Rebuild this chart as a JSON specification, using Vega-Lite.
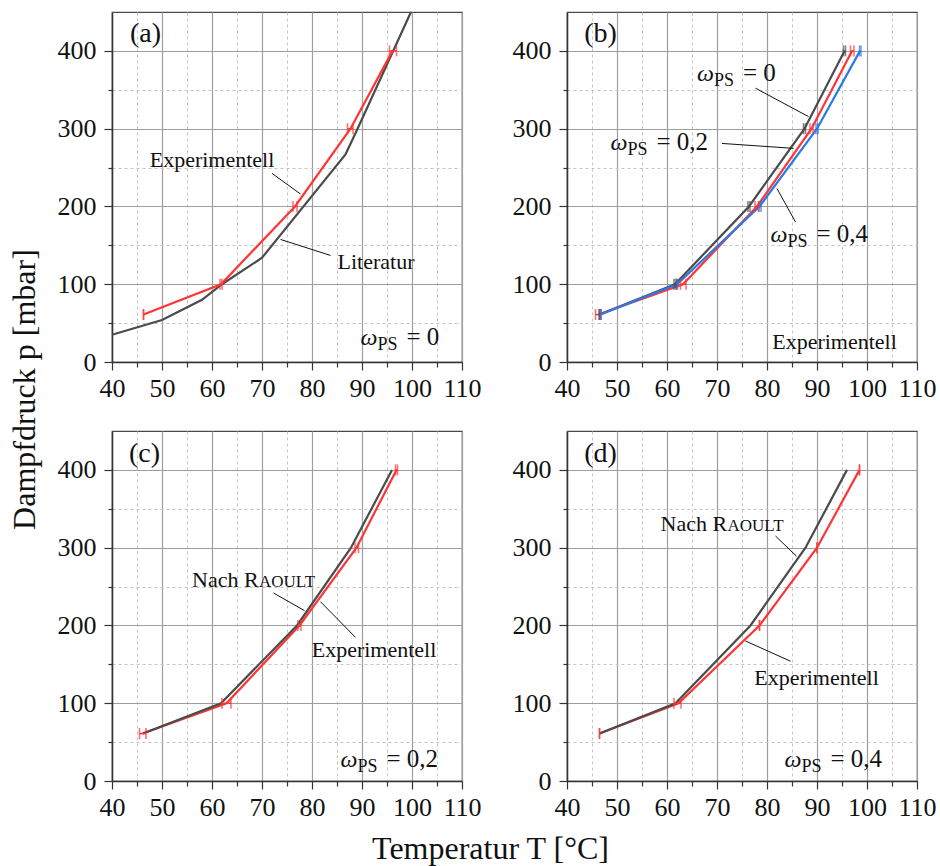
{
  "$schema": "https://vega.github.io/schema/vega-lite/v6.json",
  "padding": {"left": 7, "top": 7, "right": 5, "bottom": 5},
  "background": "white",
  "config": {
    "font": "Liberation Serif",
    "view": {"stroke": "#4a4a4a", "strokeWidth": 1.2},
    "axis": {
      "labelFont": "Liberation Serif", "labelFontSize": 26, "labelColor": "#111",
      "labelFlush": false, "labelOverlap": false,
      "tickColor": "#333", "tickWidth": 1.2,
      "domainColor": "#333", "domainWidth": 1.5,
      "titleFont": "Liberation Serif", "titleFontSize": 32, "titleFontWeight": "normal", "titleColor": "#111"
    },
    "text": {"font": "Liberation Serif", "color": "#111"}
  },
  "datasets": {
    "curves": [
      {"panel": "a", "s": "Literatur", "T": 40, "p": 35},
      {"panel": "a", "s": "Literatur", "T": 50, "p": 54},
      {"panel": "a", "s": "Literatur", "T": 58, "p": 80},
      {"panel": "a", "s": "Literatur", "T": 62, "p": 100},
      {"panel": "a", "s": "Literatur", "T": 70, "p": 134},
      {"panel": "a", "s": "Literatur", "T": 86.7, "p": 267},
      {"panel": "a", "s": "Literatur", "T": 88.7, "p": 294},
      {"panel": "a", "s": "Literatur", "T": 99.8, "p": 450},
      {"panel": "a", "s": "Experimentell", "T": 46.3, "p": 61, "lo": 46.3, "hi": 46.3},
      {"panel": "a", "s": "Experimentell", "T": 61.8, "p": 100, "lo": 61.6, "hi": 62.0},
      {"panel": "a", "s": "Experimentell", "T": 76.6, "p": 200, "lo": 76.2, "hi": 77.0},
      {"panel": "a", "s": "Experimentell", "T": 87.7, "p": 300, "lo": 87.1, "hi": 88.2},
      {"panel": "a", "s": "Experimentell", "T": 96.1, "p": 400, "lo": 95.5, "hi": 96.9},
      {"panel": "b", "s": "ωPS = 0", "T": 46.5, "p": 61, "lo": 46.4, "hi": 46.6},
      {"panel": "b", "s": "ωPS = 0", "T": 61.6, "p": 100, "lo": 61.4, "hi": 61.8},
      {"panel": "b", "s": "ωPS = 0", "T": 76.4, "p": 200, "lo": 76.2, "hi": 76.6},
      {"panel": "b", "s": "ωPS = 0", "T": 87.5, "p": 300, "lo": 87.3, "hi": 87.7},
      {"panel": "b", "s": "ωPS = 0", "T": 95.5, "p": 400, "lo": 95.3, "hi": 95.7},
      {"panel": "b", "s": "ωPS = 0,2", "T": 46.3, "p": 61, "lo": 45.7, "hi": 46.8},
      {"panel": "b", "s": "ωPS = 0,2", "T": 63.2, "p": 100, "lo": 62.7, "hi": 63.8},
      {"panel": "b", "s": "ωPS = 0,2", "T": 78.0, "p": 200, "lo": 77.6, "hi": 78.4},
      {"panel": "b", "s": "ωPS = 0,2", "T": 88.9, "p": 300, "lo": 88.6, "hi": 89.2},
      {"panel": "b", "s": "ωPS = 0,2", "T": 97.0, "p": 400, "lo": 96.7, "hi": 97.4},
      {"panel": "b", "s": "ωPS = 0,4", "T": 46.7, "p": 61, "lo": 46.6, "hi": 46.8},
      {"panel": "b", "s": "ωPS = 0,4", "T": 62.0, "p": 100, "lo": 61.9, "hi": 62.1},
      {"panel": "b", "s": "ωPS = 0,4", "T": 78.5, "p": 200, "lo": 78.3, "hi": 78.8},
      {"panel": "b", "s": "ωPS = 0,4", "T": 90.0, "p": 300, "lo": 89.8, "hi": 90.2},
      {"panel": "b", "s": "ωPS = 0,4", "T": 98.6, "p": 400, "lo": 98.5, "hi": 98.8},
      {"panel": "c", "s": "Nach Raoult", "T": 46.2, "p": 61},
      {"panel": "c", "s": "Nach Raoult", "T": 61.8, "p": 100},
      {"panel": "c", "s": "Nach Raoult", "T": 77.0, "p": 200},
      {"panel": "c", "s": "Nach Raoult", "T": 87.8, "p": 300},
      {"panel": "c", "s": "Nach Raoult", "T": 96.0, "p": 400},
      {"panel": "c", "s": "Experimentell", "T": 46.1, "p": 61, "lo": 45.5, "hi": 46.8},
      {"panel": "c", "s": "Experimentell", "T": 62.9, "p": 100, "lo": 62.0, "hi": 63.8},
      {"panel": "c", "s": "Experimentell", "T": 77.5, "p": 200, "lo": 77.2, "hi": 77.8},
      {"panel": "c", "s": "Experimentell", "T": 88.9, "p": 300, "lo": 88.6, "hi": 89.3},
      {"panel": "c", "s": "Experimentell", "T": 96.9, "p": 400, "lo": 96.7, "hi": 97.1},
      {"panel": "d", "s": "Nach Raoult", "T": 46.5, "p": 61},
      {"panel": "d", "s": "Nach Raoult", "T": 61.7, "p": 100},
      {"panel": "d", "s": "Nach Raoult", "T": 76.7, "p": 200},
      {"panel": "d", "s": "Nach Raoult", "T": 87.7, "p": 300},
      {"panel": "d", "s": "Nach Raoult", "T": 96.0, "p": 400},
      {"panel": "d", "s": "Experimentell", "T": 46.5, "p": 61, "lo": 46.5, "hi": 46.5},
      {"panel": "d", "s": "Experimentell", "T": 62.3, "p": 100, "lo": 61.4, "hi": 62.8},
      {"panel": "d", "s": "Experimentell", "T": 78.5, "p": 200, "lo": 78.5, "hi": 78.5},
      {"panel": "d", "s": "Experimentell", "T": 90.0, "p": 300, "lo": 90.0, "hi": 90.0},
      {"panel": "d", "s": "Experimentell", "T": 98.5, "p": 400, "lo": 98.5, "hi": 98.5}
    ],
    "notes": [
      {"panel": "a", "T": 60, "p": 251, "text": "Experimentell"},
      {"panel": "a", "T": 92.8, "p": 120, "text": "Literatur"},
      {"panel": "b", "T": 93.5, "p": 17, "text": "Experimentell"},
      {"panel": "c", "T": 92.4, "p": 159, "text": "Experimentell"},
      {"panel": "d", "T": 89.9, "p": 123, "text": "Experimentell"}
    ],
    "letters": [
      {"panel": "a", "T": 46.7, "p": 412, "text": "(a)"},
      {"panel": "b", "T": 46.7, "p": 412, "text": "(b)"},
      {"panel": "c", "T": 46.5, "p": 410, "text": "(c)"},
      {"panel": "d", "T": 46.7, "p": 410, "text": "(d)"}
    ],
    "raoult": [
      {"panel": "c", "T": 56, "p": 249.4, "head": "Nach R", "tail": "AOULT"},
      {"panel": "d", "T": 58.7, "p": 322, "head": "Nach R", "tail": "AOULT"}
    ],
    "omegas": [
      {"panel": "a", "T": 89.7, "p": 21.5, "sym": "ω", "sub": "PS", "val": "= 0"},
      {"panel": "b", "T": 66, "p": 361, "sym": "ω", "sub": "PS", "val": "= 0"},
      {"panel": "b", "T": 48.7, "p": 272.6, "sym": "ω", "sub": "PS", "val": "= 0,2"},
      {"panel": "b", "T": 80.7, "p": 154.5, "sym": "ω", "sub": "PS", "val": "= 0,4"},
      {"panel": "c", "T": 85.7, "p": 18.4, "sym": "ω", "sub": "PS", "val": "= 0,2"},
      {"panel": "d", "T": 83.5, "p": 18.4, "sym": "ω", "sub": "PS", "val": "= 0,4"}
    ],
    "leaders": [
      {"panel": "a", "T": 72, "p": 242.5, "T2": 77.7, "p2": 216},
      {"panel": "a", "T": 83.7, "p": 137, "T2": 73.7, "p2": 157.6},
      {"panel": "b", "T": 77.7, "p": 352, "T2": 88.3, "p2": 315.5},
      {"panel": "b", "T": 71, "p": 281, "T2": 85.3, "p2": 274.7},
      {"panel": "b", "T": 85.7, "p": 180, "T2": 82, "p2": 223},
      {"panel": "c", "T": 72.3, "p": 241.7, "T2": 78.5, "p2": 219},
      {"panel": "c", "T": 88.7, "p": 184.7, "T2": 81.7, "p2": 230.5},
      {"panel": "d", "T": 81.7, "p": 315, "T2": 85.9, "p2": 289},
      {"panel": "d", "T": 84.7, "p": 154, "T2": 75.7, "p2": 180}
    ]
  },
  "columns": 2,
  "spacing": {"row": 69, "column": 105},
  "bounds": "flush",
  "concat": [
    {
      "width": 350, "height": 350,
      "resolve": {"axis": {"x": "independent", "y": "independent"}},
      "layer": [
        {"data": {"name": "curves"}, "transform": [{"filter": "datum.panel === 'a' && datum.s === 'Literatur'"}],
         "mark": {"type": "line", "strokeWidth": 2.2},
         "encoding": {
           "x": {"field": "T", "type": "quantitative", "scale": {"domain": [40, 110], "nice": false, "zero": false},
                 "axis": {"orient": "bottom", "values": [45, 55, 65, 75, 85, 95, 105], "grid": true, "gridDash": [3, 3], "gridColor": "#c4c4c4", "gridWidth": 1, "labels": false, "tickSize": 5, "domain": false, "title": null}},
           "y": {"field": "p", "type": "quantitative", "scale": {"domain": [0, 450], "nice": false, "zero": false},
                 "axis": {"orient": "left", "values": [50, 150, 250, 350], "grid": true, "gridDash": [3, 3], "gridColor": "#c4c4c4", "gridWidth": 1, "labels": false, "tickSize": 4, "domain": false, "title": null}},
           "color": {"field": "s", "type": "nominal", "legend": null, "scale": {"domain": ["Literatur", "Nach Raoult", "ωPS = 0", "Experimentell", "ωPS = 0,2", "ωPS = 0,4"], "range": ["#4b4b4b", "#4b4b4b", "#4b4b4b", "#ff3535", "#ff3535", "#2979e6"]}}
         }},
        {"data": {"name": "curves"}, "transform": [{"filter": "datum.panel === 'a' && datum.s === 'Experimentell'"}],
         "mark": {"type": "line", "strokeWidth": 2.2},
         "encoding": {
           "x": {"field": "T", "type": "quantitative", "scale": {"domain": [40, 110], "nice": false, "zero": false},
                 "axis": {"orient": "bottom", "values": [40, 50, 60, 70, 80, 90, 100, 110], "grid": true, "gridColor": "#9e9e9e", "gridWidth": 1.2, "tickSize": 8, "labelPadding": 5, "title": null}},
           "y": {"field": "p", "type": "quantitative", "scale": {"domain": [0, 450], "nice": false, "zero": false},
                 "axis": {"orient": "left", "values": [0, 100, 200, 300, 400], "grid": true, "gridColor": "#9e9e9e", "gridWidth": 1.2, "tickSize": 8, "labelPadding": 8,
                          "title": "Dampfdruck p [mbar]", "titleX": -88, "titleY": 377, "titleAngle": -90, "titleAlign": "center", "titleBaseline": "middle"}},
           "color": {"field": "s", "type": "nominal", "legend": null}
         }},
        {"data": {"name": "curves"}, "transform": [{"filter": "datum.panel === 'a' && isValid(datum.lo)"}],
         "mark": {"type": "rule", "strokeWidth": 1.5},
         "encoding": {"x": {"field": "lo", "type": "quantitative", "axis": null}, "x2": {"field": "hi"}, "y": {"field": "p", "type": "quantitative", "axis": null}, "color": {"field": "s", "type": "nominal", "legend": null}}},
        {"data": {"name": "curves"}, "transform": [{"filter": "datum.panel === 'a' && isValid(datum.lo)"}],
         "mark": {"type": "tick", "orient": "vertical", "size": 11, "thickness": 1.6},
         "encoding": {"x": {"field": "lo", "type": "quantitative", "axis": null}, "y": {"field": "p", "type": "quantitative", "axis": null}, "color": {"field": "s", "type": "nominal", "legend": null}}},
        {"data": {"name": "curves"}, "transform": [{"filter": "datum.panel === 'a' && isValid(datum.lo)"}],
         "mark": {"type": "tick", "orient": "vertical", "size": 11, "thickness": 1.6},
         "encoding": {"x": {"field": "hi", "type": "quantitative", "axis": null}, "y": {"field": "p", "type": "quantitative", "axis": null}, "color": {"field": "s", "type": "nominal", "legend": null}}},
        {"data": {"name": "leaders"}, "transform": [{"filter": "datum.panel === 'a'"}],
         "mark": {"type": "rule", "color": "#111", "strokeWidth": 1},
         "encoding": {"x": {"field": "T", "type": "quantitative", "axis": null}, "y": {"field": "p", "type": "quantitative", "axis": null}, "x2": {"field": "T2"}, "y2": {"field": "p2"}}},
        {"data": {"name": "notes"}, "transform": [{"filter": "datum.panel === 'a'"}],
         "mark": {"type": "text", "fontSize": 22, "align": "center", "baseline": "alphabetic"},
         "encoding": {"x": {"field": "T", "type": "quantitative", "axis": null}, "y": {"field": "p", "type": "quantitative", "axis": null}, "text": {"field": "text"}}},
        {"data": {"name": "letters"}, "transform": [{"filter": "datum.panel === 'a'"}],
         "mark": {"type": "text", "fontSize": 28, "align": "center", "baseline": "alphabetic"},
         "encoding": {"x": {"field": "T", "type": "quantitative", "axis": null}, "y": {"field": "p", "type": "quantitative", "axis": null}, "text": {"field": "text"}}},
        {"data": {"name": "omegas"}, "transform": [{"filter": "datum.panel === 'a'"}],
         "mark": {"type": "text", "fontSize": 24, "fontStyle": "italic", "align": "left", "baseline": "alphabetic"},
         "encoding": {"x": {"field": "T", "type": "quantitative", "axis": null}, "y": {"field": "p", "type": "quantitative", "axis": null}, "text": {"field": "sym"}}},
        {"data": {"name": "omegas"}, "transform": [{"filter": "datum.panel === 'a'"}],
         "mark": {"type": "text", "fontSize": 18, "align": "left", "baseline": "alphabetic", "dx": 17, "dy": 5},
         "encoding": {"x": {"field": "T", "type": "quantitative", "axis": null}, "y": {"field": "p", "type": "quantitative", "axis": null}, "text": {"field": "sub"}}},
        {"data": {"name": "omegas"}, "transform": [{"filter": "datum.panel === 'a'"}],
         "mark": {"type": "text", "fontSize": 25, "align": "left", "baseline": "alphabetic", "dx": 46},
         "encoding": {"x": {"field": "T", "type": "quantitative", "axis": null}, "y": {"field": "p", "type": "quantitative", "axis": null}, "text": {"field": "val"}}}
      ]
    },
    {
      "width": 350, "height": 350,
      "resolve": {"axis": {"x": "independent", "y": "independent"}},
      "layer": [
        {"data": {"name": "curves"}, "transform": [{"filter": "datum.panel === 'b' && datum.s === 'ωPS = 0'"}],
         "mark": {"type": "line", "strokeWidth": 2.2},
         "encoding": {
           "x": {"field": "T", "type": "quantitative", "scale": {"domain": [40, 110], "nice": false, "zero": false},
                 "axis": {"orient": "bottom", "values": [45, 55, 65, 75, 85, 95, 105], "grid": true, "gridDash": [3, 3], "gridColor": "#c4c4c4", "gridWidth": 1, "labels": false, "tickSize": 5, "domain": false, "title": null}},
           "y": {"field": "p", "type": "quantitative", "scale": {"domain": [0, 450], "nice": false, "zero": false},
                 "axis": {"orient": "left", "values": [50, 150, 250, 350], "grid": true, "gridDash": [3, 3], "gridColor": "#c4c4c4", "gridWidth": 1, "labels": false, "tickSize": 4, "domain": false, "title": null}},
           "color": {"field": "s", "type": "nominal", "legend": null}
         }},
        {"data": {"name": "curves"}, "transform": [{"filter": "datum.panel === 'b' && datum.s === 'ωPS = 0,2'"}],
         "mark": {"type": "line", "strokeWidth": 2.2},
         "encoding": {
           "x": {"field": "T", "type": "quantitative", "scale": {"domain": [40, 110], "nice": false, "zero": false},
                 "axis": {"orient": "bottom", "values": [40, 50, 60, 70, 80, 90, 100, 110], "grid": true, "gridColor": "#9e9e9e", "gridWidth": 1.2, "tickSize": 8, "labelPadding": 5, "title": null}},
           "y": {"field": "p", "type": "quantitative", "scale": {"domain": [0, 450], "nice": false, "zero": false},
                 "axis": {"orient": "left", "values": [0, 100, 200, 300, 400], "grid": true, "gridColor": "#9e9e9e", "gridWidth": 1.2, "tickSize": 8, "labelPadding": 8, "title": null}},
           "color": {"field": "s", "type": "nominal", "legend": null}
         }},
        {"data": {"name": "curves"}, "transform": [{"filter": "datum.panel === 'b' && datum.s === 'ωPS = 0,4'"}],
         "mark": {"type": "line", "strokeWidth": 2.2},
         "encoding": {"x": {"field": "T", "type": "quantitative", "axis": null}, "y": {"field": "p", "type": "quantitative", "axis": null}, "color": {"field": "s", "type": "nominal", "legend": null}}},
        {"data": {"name": "curves"}, "transform": [{"filter": "datum.panel === 'b' && isValid(datum.lo)"}],
         "mark": {"type": "rule", "strokeWidth": 1.5},
         "encoding": {"x": {"field": "lo", "type": "quantitative", "axis": null}, "x2": {"field": "hi"}, "y": {"field": "p", "type": "quantitative", "axis": null}, "color": {"field": "s", "type": "nominal", "legend": null}}},
        {"data": {"name": "curves"}, "transform": [{"filter": "datum.panel === 'b' && isValid(datum.lo)"}],
         "mark": {"type": "tick", "orient": "vertical", "size": 11, "thickness": 1.6},
         "encoding": {"x": {"field": "lo", "type": "quantitative", "axis": null}, "y": {"field": "p", "type": "quantitative", "axis": null}, "color": {"field": "s", "type": "nominal", "legend": null}}},
        {"data": {"name": "curves"}, "transform": [{"filter": "datum.panel === 'b' && isValid(datum.lo)"}],
         "mark": {"type": "tick", "orient": "vertical", "size": 11, "thickness": 1.6},
         "encoding": {"x": {"field": "hi", "type": "quantitative", "axis": null}, "y": {"field": "p", "type": "quantitative", "axis": null}, "color": {"field": "s", "type": "nominal", "legend": null}}},
        {"data": {"name": "leaders"}, "transform": [{"filter": "datum.panel === 'b'"}],
         "mark": {"type": "rule", "color": "#111", "strokeWidth": 1},
         "encoding": {"x": {"field": "T", "type": "quantitative", "axis": null}, "y": {"field": "p", "type": "quantitative", "axis": null}, "x2": {"field": "T2"}, "y2": {"field": "p2"}}},
        {"data": {"name": "notes"}, "transform": [{"filter": "datum.panel === 'b'"}],
         "mark": {"type": "text", "fontSize": 22, "align": "center", "baseline": "alphabetic"},
         "encoding": {"x": {"field": "T", "type": "quantitative", "axis": null}, "y": {"field": "p", "type": "quantitative", "axis": null}, "text": {"field": "text"}}},
        {"data": {"name": "letters"}, "transform": [{"filter": "datum.panel === 'b'"}],
         "mark": {"type": "text", "fontSize": 28, "align": "center", "baseline": "alphabetic"},
         "encoding": {"x": {"field": "T", "type": "quantitative", "axis": null}, "y": {"field": "p", "type": "quantitative", "axis": null}, "text": {"field": "text"}}},
        {"data": {"name": "omegas"}, "transform": [{"filter": "datum.panel === 'b'"}],
         "mark": {"type": "text", "fontSize": 24, "fontStyle": "italic", "align": "left", "baseline": "alphabetic"},
         "encoding": {"x": {"field": "T", "type": "quantitative", "axis": null}, "y": {"field": "p", "type": "quantitative", "axis": null}, "text": {"field": "sym"}}},
        {"data": {"name": "omegas"}, "transform": [{"filter": "datum.panel === 'b'"}],
         "mark": {"type": "text", "fontSize": 18, "align": "left", "baseline": "alphabetic", "dx": 17, "dy": 5},
         "encoding": {"x": {"field": "T", "type": "quantitative", "axis": null}, "y": {"field": "p", "type": "quantitative", "axis": null}, "text": {"field": "sub"}}},
        {"data": {"name": "omegas"}, "transform": [{"filter": "datum.panel === 'b'"}],
         "mark": {"type": "text", "fontSize": 25, "align": "left", "baseline": "alphabetic", "dx": 46},
         "encoding": {"x": {"field": "T", "type": "quantitative", "axis": null}, "y": {"field": "p", "type": "quantitative", "axis": null}, "text": {"field": "val"}}}
      ]
    },
    {
      "width": 350, "height": 350,
      "resolve": {"axis": {"x": "independent", "y": "independent"}},
      "layer": [
        {"data": {"name": "curves"}, "transform": [{"filter": "datum.panel === 'c' && datum.s === 'Experimentell'"}],
         "mark": {"type": "line", "strokeWidth": 2.2},
         "encoding": {
           "x": {"field": "T", "type": "quantitative", "scale": {"domain": [40, 110], "nice": false, "zero": false},
                 "axis": {"orient": "bottom", "values": [45, 55, 65, 75, 85, 95, 105], "grid": true, "gridDash": [3, 3], "gridColor": "#c4c4c4", "gridWidth": 1, "labels": false, "tickSize": 5, "domain": false, "title": null}},
           "y": {"field": "p", "type": "quantitative", "scale": {"domain": [0, 450], "nice": false, "zero": false},
                 "axis": {"orient": "left", "values": [50, 150, 250, 350], "grid": true, "gridDash": [3, 3], "gridColor": "#c4c4c4", "gridWidth": 1, "labels": false, "tickSize": 4, "domain": false, "title": null}},
           "color": {"field": "s", "type": "nominal", "legend": null}
         }},
        {"data": {"name": "curves"}, "transform": [{"filter": "datum.panel === 'c' && datum.s === 'Nach Raoult'"}],
         "mark": {"type": "line", "strokeWidth": 2.2},
         "encoding": {
           "x": {"field": "T", "type": "quantitative", "scale": {"domain": [40, 110], "nice": false, "zero": false},
                 "axis": {"orient": "bottom", "values": [40, 50, 60, 70, 80, 90, 100, 110], "grid": true, "gridColor": "#9e9e9e", "gridWidth": 1.2, "tickSize": 8, "labelPadding": 5,
                          "title": "Temperatur T [°C]", "titleX": 378, "titleY": 67, "titleAngle": 0, "titleAlign": "center", "titleBaseline": "middle"}},
           "y": {"field": "p", "type": "quantitative", "scale": {"domain": [0, 450], "nice": false, "zero": false},
                 "axis": {"orient": "left", "values": [0, 100, 200, 300, 400], "grid": true, "gridColor": "#9e9e9e", "gridWidth": 1.2, "tickSize": 8, "labelPadding": 8, "title": null}},
           "color": {"field": "s", "type": "nominal", "legend": null}
         }},
        {"data": {"name": "curves"}, "transform": [{"filter": "datum.panel === 'c' && isValid(datum.lo)"}],
         "mark": {"type": "rule", "strokeWidth": 1.5},
         "encoding": {"x": {"field": "lo", "type": "quantitative", "axis": null}, "x2": {"field": "hi"}, "y": {"field": "p", "type": "quantitative", "axis": null}, "color": {"field": "s", "type": "nominal", "legend": null}}},
        {"data": {"name": "curves"}, "transform": [{"filter": "datum.panel === 'c' && isValid(datum.lo)"}],
         "mark": {"type": "tick", "orient": "vertical", "size": 11, "thickness": 1.6},
         "encoding": {"x": {"field": "lo", "type": "quantitative", "axis": null}, "y": {"field": "p", "type": "quantitative", "axis": null}, "color": {"field": "s", "type": "nominal", "legend": null}}},
        {"data": {"name": "curves"}, "transform": [{"filter": "datum.panel === 'c' && isValid(datum.lo)"}],
         "mark": {"type": "tick", "orient": "vertical", "size": 11, "thickness": 1.6},
         "encoding": {"x": {"field": "hi", "type": "quantitative", "axis": null}, "y": {"field": "p", "type": "quantitative", "axis": null}, "color": {"field": "s", "type": "nominal", "legend": null}}},
        {"data": {"name": "leaders"}, "transform": [{"filter": "datum.panel === 'c'"}],
         "mark": {"type": "rule", "color": "#111", "strokeWidth": 1},
         "encoding": {"x": {"field": "T", "type": "quantitative", "axis": null}, "y": {"field": "p", "type": "quantitative", "axis": null}, "x2": {"field": "T2"}, "y2": {"field": "p2"}}},
        {"data": {"name": "notes"}, "transform": [{"filter": "datum.panel === 'c'"}],
         "mark": {"type": "text", "fontSize": 22, "align": "center", "baseline": "alphabetic"},
         "encoding": {"x": {"field": "T", "type": "quantitative", "axis": null}, "y": {"field": "p", "type": "quantitative", "axis": null}, "text": {"field": "text"}}},
        {"data": {"name": "raoult"}, "transform": [{"filter": "datum.panel === 'c'"}],
         "mark": {"type": "text", "fontSize": 22, "align": "left", "baseline": "alphabetic"},
         "encoding": {"x": {"field": "T", "type": "quantitative", "axis": null}, "y": {"field": "p", "type": "quantitative", "axis": null}, "text": {"field": "head"}}},
        {"data": {"name": "raoult"}, "transform": [{"filter": "datum.panel === 'c'"}],
         "mark": {"type": "text", "fontSize": 17, "align": "left", "baseline": "alphabetic", "dx": 67},
         "encoding": {"x": {"field": "T", "type": "quantitative", "axis": null}, "y": {"field": "p", "type": "quantitative", "axis": null}, "text": {"field": "tail"}}},
        {"data": {"name": "letters"}, "transform": [{"filter": "datum.panel === 'c'"}],
         "mark": {"type": "text", "fontSize": 28, "align": "center", "baseline": "alphabetic"},
         "encoding": {"x": {"field": "T", "type": "quantitative", "axis": null}, "y": {"field": "p", "type": "quantitative", "axis": null}, "text": {"field": "text"}}},
        {"data": {"name": "omegas"}, "transform": [{"filter": "datum.panel === 'c'"}],
         "mark": {"type": "text", "fontSize": 24, "fontStyle": "italic", "align": "left", "baseline": "alphabetic"},
         "encoding": {"x": {"field": "T", "type": "quantitative", "axis": null}, "y": {"field": "p", "type": "quantitative", "axis": null}, "text": {"field": "sym"}}},
        {"data": {"name": "omegas"}, "transform": [{"filter": "datum.panel === 'c'"}],
         "mark": {"type": "text", "fontSize": 18, "align": "left", "baseline": "alphabetic", "dx": 17, "dy": 5},
         "encoding": {"x": {"field": "T", "type": "quantitative", "axis": null}, "y": {"field": "p", "type": "quantitative", "axis": null}, "text": {"field": "sub"}}},
        {"data": {"name": "omegas"}, "transform": [{"filter": "datum.panel === 'c'"}],
         "mark": {"type": "text", "fontSize": 25, "align": "left", "baseline": "alphabetic", "dx": 46},
         "encoding": {"x": {"field": "T", "type": "quantitative", "axis": null}, "y": {"field": "p", "type": "quantitative", "axis": null}, "text": {"field": "val"}}}
      ]
    },
    {
      "width": 350, "height": 350,
      "resolve": {"axis": {"x": "independent", "y": "independent"}},
      "layer": [
        {"data": {"name": "curves"}, "transform": [{"filter": "datum.panel === 'd' && datum.s === 'Experimentell'"}],
         "mark": {"type": "line", "strokeWidth": 2.2},
         "encoding": {
           "x": {"field": "T", "type": "quantitative", "scale": {"domain": [40, 110], "nice": false, "zero": false},
                 "axis": {"orient": "bottom", "values": [45, 55, 65, 75, 85, 95, 105], "grid": true, "gridDash": [3, 3], "gridColor": "#c4c4c4", "gridWidth": 1, "labels": false, "tickSize": 5, "domain": false, "title": null}},
           "y": {"field": "p", "type": "quantitative", "scale": {"domain": [0, 450], "nice": false, "zero": false},
                 "axis": {"orient": "left", "values": [50, 150, 250, 350], "grid": true, "gridDash": [3, 3], "gridColor": "#c4c4c4", "gridWidth": 1, "labels": false, "tickSize": 4, "domain": false, "title": null}},
           "color": {"field": "s", "type": "nominal", "legend": null}
         }},
        {"data": {"name": "curves"}, "transform": [{"filter": "datum.panel === 'd' && datum.s === 'Nach Raoult'"}],
         "mark": {"type": "line", "strokeWidth": 2.2},
         "encoding": {
           "x": {"field": "T", "type": "quantitative", "scale": {"domain": [40, 110], "nice": false, "zero": false},
                 "axis": {"orient": "bottom", "values": [40, 50, 60, 70, 80, 90, 100, 110], "grid": true, "gridColor": "#9e9e9e", "gridWidth": 1.2, "tickSize": 8, "labelPadding": 5, "title": null}},
           "y": {"field": "p", "type": "quantitative", "scale": {"domain": [0, 450], "nice": false, "zero": false},
                 "axis": {"orient": "left", "values": [0, 100, 200, 300, 400], "grid": true, "gridColor": "#9e9e9e", "gridWidth": 1.2, "tickSize": 8, "labelPadding": 8, "title": null}},
           "color": {"field": "s", "type": "nominal", "legend": null}
         }},
        {"data": {"name": "curves"}, "transform": [{"filter": "datum.panel === 'd' && isValid(datum.lo)"}],
         "mark": {"type": "rule", "strokeWidth": 1.5},
         "encoding": {"x": {"field": "lo", "type": "quantitative", "axis": null}, "x2": {"field": "hi"}, "y": {"field": "p", "type": "quantitative", "axis": null}, "color": {"field": "s", "type": "nominal", "legend": null}}},
        {"data": {"name": "curves"}, "transform": [{"filter": "datum.panel === 'd' && isValid(datum.lo)"}],
         "mark": {"type": "tick", "orient": "vertical", "size": 11, "thickness": 1.6},
         "encoding": {"x": {"field": "lo", "type": "quantitative", "axis": null}, "y": {"field": "p", "type": "quantitative", "axis": null}, "color": {"field": "s", "type": "nominal", "legend": null}}},
        {"data": {"name": "curves"}, "transform": [{"filter": "datum.panel === 'd' && isValid(datum.lo)"}],
         "mark": {"type": "tick", "orient": "vertical", "size": 11, "thickness": 1.6},
         "encoding": {"x": {"field": "hi", "type": "quantitative", "axis": null}, "y": {"field": "p", "type": "quantitative", "axis": null}, "color": {"field": "s", "type": "nominal", "legend": null}}},
        {"data": {"name": "leaders"}, "transform": [{"filter": "datum.panel === 'd'"}],
         "mark": {"type": "rule", "color": "#111", "strokeWidth": 1},
         "encoding": {"x": {"field": "T", "type": "quantitative", "axis": null}, "y": {"field": "p", "type": "quantitative", "axis": null}, "x2": {"field": "T2"}, "y2": {"field": "p2"}}},
        {"data": {"name": "notes"}, "transform": [{"filter": "datum.panel === 'd'"}],
         "mark": {"type": "text", "fontSize": 22, "align": "center", "baseline": "alphabetic"},
         "encoding": {"x": {"field": "T", "type": "quantitative", "axis": null}, "y": {"field": "p", "type": "quantitative", "axis": null}, "text": {"field": "text"}}},
        {"data": {"name": "raoult"}, "transform": [{"filter": "datum.panel === 'd'"}],
         "mark": {"type": "text", "fontSize": 22, "align": "left", "baseline": "alphabetic"},
         "encoding": {"x": {"field": "T", "type": "quantitative", "axis": null}, "y": {"field": "p", "type": "quantitative", "axis": null}, "text": {"field": "head"}}},
        {"data": {"name": "raoult"}, "transform": [{"filter": "datum.panel === 'd'"}],
         "mark": {"type": "text", "fontSize": 17, "align": "left", "baseline": "alphabetic", "dx": 67},
         "encoding": {"x": {"field": "T", "type": "quantitative", "axis": null}, "y": {"field": "p", "type": "quantitative", "axis": null}, "text": {"field": "tail"}}},
        {"data": {"name": "letters"}, "transform": [{"filter": "datum.panel === 'd'"}],
         "mark": {"type": "text", "fontSize": 28, "align": "center", "baseline": "alphabetic"},
         "encoding": {"x": {"field": "T", "type": "quantitative", "axis": null}, "y": {"field": "p", "type": "quantitative", "axis": null}, "text": {"field": "text"}}},
        {"data": {"name": "omegas"}, "transform": [{"filter": "datum.panel === 'd'"}],
         "mark": {"type": "text", "fontSize": 24, "fontStyle": "italic", "align": "left", "baseline": "alphabetic"},
         "encoding": {"x": {"field": "T", "type": "quantitative", "axis": null}, "y": {"field": "p", "type": "quantitative", "axis": null}, "text": {"field": "sym"}}},
        {"data": {"name": "omegas"}, "transform": [{"filter": "datum.panel === 'd'"}],
         "mark": {"type": "text", "fontSize": 18, "align": "left", "baseline": "alphabetic", "dx": 17, "dy": 5},
         "encoding": {"x": {"field": "T", "type": "quantitative", "axis": null}, "y": {"field": "p", "type": "quantitative", "axis": null}, "text": {"field": "sub"}}},
        {"data": {"name": "omegas"}, "transform": [{"filter": "datum.panel === 'd'"}],
         "mark": {"type": "text", "fontSize": 25, "align": "left", "baseline": "alphabetic", "dx": 46},
         "encoding": {"x": {"field": "T", "type": "quantitative", "axis": null}, "y": {"field": "p", "type": "quantitative", "axis": null}, "text": {"field": "val"}}}
      ]
    }
  ]
}
